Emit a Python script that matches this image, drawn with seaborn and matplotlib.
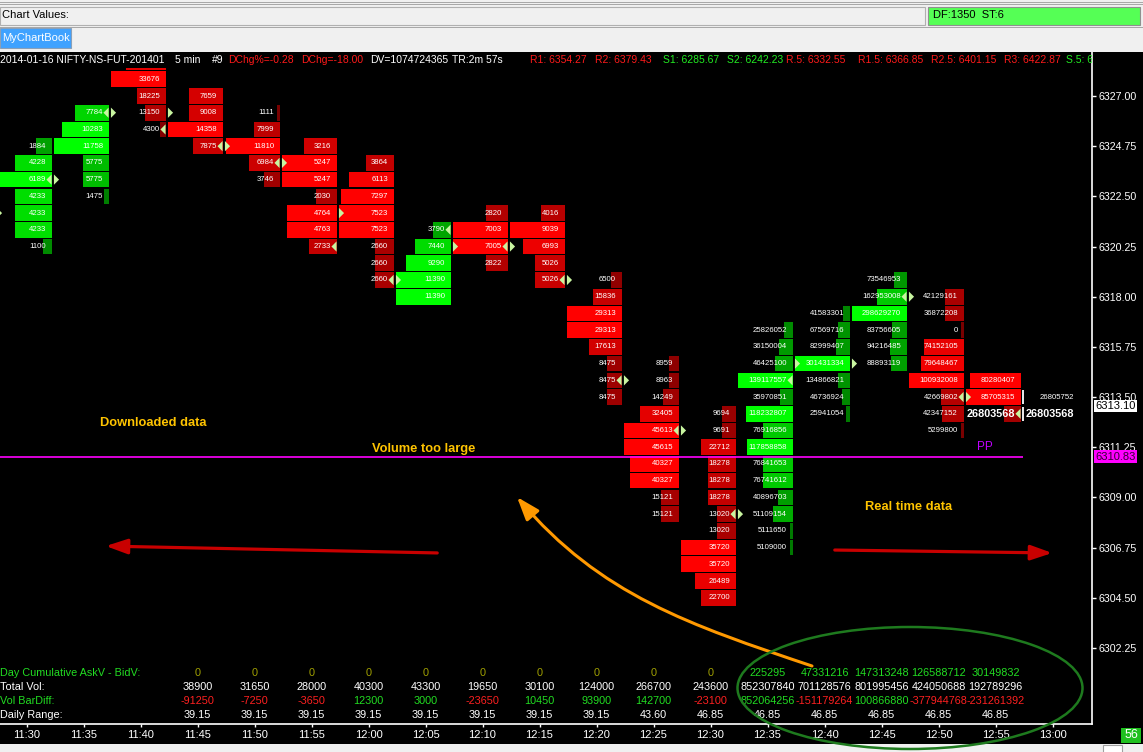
import numpy as np
import pandas as pd
import seaborn as sns
import matplotlib.pyplot as plt
import matplotlib.transforms as mtransforms
from matplotlib.patches import Rectangle, Ellipse, FancyArrowPatch
from matplotlib.path import Path

# ---------------- values ----------------
times = ['11:30', '11:35', '11:40', '11:45', '11:50', '11:55', '12:00', '12:05',
         '12:10', '12:15', '12:20', '12:25', '12:30', '12:35', '12:40', '12:45',
         '12:50', '12:55', '13:00']

# footprint columns: top price level, side, volume per 0.75 level (top -> down)
col_top = [6324.75, 6326.25, 6328.50, 6327.00, 6326.25, 6324.75, 6324.00, 6321.00,
           6321.75, 6321.75, 6318.75, 6315.00, 6312.75, 6316.50, 6317.25, 6318.75,
           6318.00, 6314.25]
col_side = ['buy', 'buy', 'sell', 'sell', 'sell', 'sell', 'sell', 'buy',
            'sell', 'sell', 'sell', 'sell', 'sell', 'buy', 'buy', 'buy',
            'sell', 'sell']
col_vol = [
    [1884, 4228, 6189, 4233, 4233, 4233, 1100],
    [7784, 10283, 11758, 5775, 5775, 1475],
    [None, 33676, 18225, 13150, 4300],
    [7659, 9008, 14358, 7875],
    [1111, 7999, 11810, 6984, 3746],
    [3216, 5247, 5247, 2030, 4764, 4763, 2733],
    [3864, 6113, 7297, 7523, 7523, 2660, 2660, 2660],
    [3790, 7440, 9290, 11390, 11390],
    [2820, 7003, 7005, 2822],
    [4016, 9039, 6993, 5026, 5026],
    [6500, 15836, 29313, 29313, 17613, 8475, 8475, 8475],
    [8959, 8963, 14249, 32405, 45613, 45615, 40327, 40327, 15121, 15121],
    [9694, 9691, 22712, 18278, 18278, 18278, 13020, 13020, 35720, 35720, 26489, 22700],
    [25826052, 36150004, 46425100, 139117557, 35970851, 118232807, 76916856,
     117858858, 76841653, 76741612, 40896703, 51109154, 5111650, 5109000],
    [41583301, 67569716, 82999407, 301431334, 134866821, 46736924, 25941054],
    [73546953, 162953008, 298629270, 83756605, 94216485, 88893119],
    [42129161, 36872208, 0, 74152105, 79648467, 100932008, 42669802, 42347152, 5299800],
    [80280407, 85705315, 26803568],
]
# bar length of each level (0..55 scale of the cell)
col_bar = [
    [16, 37, 55, 37, 37, 37, 9],
    [34, 47, 55, 26, 26, 5],
    [40, 55, 29, 21, 6],
    [34, 34, 55, 30],
    [3, 26, 54, 31, 16],
    [33, 55, 55, 21, 50, 50, 28],
    [28, 45, 53, 55, 55, 19, 19, 19],
    [18, 36, 45, 55, 55],
    [22, 55, 55, 22],
    [24, 55, 42, 30, 30],
    [11, 29, 55, 55, 33, 15, 15, 15],
    [10, 10, 16, 39, 55, 55, 49, 49, 18, 18],
    [14, 14, 35, 28, 28, 28, 19, 19, 55, 55, 41, 35],
    [9, 14, 18, 55, 13, 47, 30, 46, 30, 30, 15, 20, 3, 3],
    [7, 12, 14, 55, 12, 8, 4],
    [13, 30, 55, 15, 17, 16],
    [19, 19, 3, 40, 43, 55, 23, 22, 3],
    [51, 55, 17],
]
col_open = [6321.75, 6323.25, 6326.25, 6326.25, 6324.75, 6324.00, 6321.75, 6318.75,
            6320.25, 6320.25, 6318.75, 6314.25, 6312.00, 6308.25, 6315.00, 6315.00,
            6318.00, 6313.50]
col_close = [6323.25, 6326.25, 6325.50, 6324.75, 6324.00, 6320.25, 6318.75, 6321.00,
             6320.25, 6318.75, 6314.25, 6312.00, 6308.25, 6314.25, None, 6318.00,
             6313.50, 6312.75]

# running 13:00 bar
live_top = 6313.50
live_vol = [26805752, 26803568]

# bottom table, from 11:45 onwards
table_first = 3
day_cum = [0, 0, 0, 0, 0, 0, 0, 0, 0, 0, 225295, 47331216, 147313248, 126588712, 30149832]
total_vol = [38900, 31650, 28000, 40300, 43300, 19650, 30100, 124000, 266700, 243600,
             852307840, 701128576, 801995456, 424050688, 192789296]
bar_diff = [-91250, -7250, -3650, 12300, 3000, -23650, 10450, 93900, 142700, -23100,
            852064256, -151179264, 100866880, -377944768, -231261392]
daily_range = [39.15, 39.15, 39.15, 39.15, 39.15, 39.15, 39.15, 39.15, 43.60,
               46.85, 46.85, 46.85, 46.85, 46.85, 46.85]
table_labels = ['Day Cumulative AskV - BidV:', 'Total Vol:', 'Vol BarDiff:', 'Daily Range:']

pivot = 6310.83
last_price = 6313.10
price_ticks = [6302.25, 6304.50, 6306.75, 6309.00, 6311.25, 6313.50, 6315.75,
               6318.00, 6320.25, 6322.50, 6324.75, 6327.00]

RED, GRN, WHT = '#FF1A1A', '#22EE22', 'white'
header = [('2014-01-16 NIFTY-NS-FUT-201401', WHT), ('5 min', WHT), ('#9', WHT),
          ('DChg%=-0.28', RED), ('DChg=-18.00', RED), ('DV=1074724365', WHT),
          ('TR:2m 57s', WHT), ('R1: 6354.27', RED), ('R2: 6379.43', RED),
          ('S1: 6285.67', GRN), ('S2: 6242.23', GRN), ('R.5: 6332.55', RED),
          ('R1.5: 6366.85', RED), ('R2.5: 6401.15', RED), ('R3: 6422.87', RED),
          ('S.5: 6', GRN)]
header_x = [0, 175, 212, 228, 301, 370, 452, 530, 595, 663, 727, 786, 858, 931, 1004, 1066]

# ---------------- layout ----------------
W, H = 1143, 752
X0, DX = 26.5, 57.0      # pixel of the 11:30 tick, pixels per 5-min column
Y0, PY = 96.0, 22.3      # pixel of 6327.00, pixels per index point
L, R, T, B = 0, 1092, 52, 724
EDGE = 25.5 / DX         # right edge of a cell from its tick

sns.set_theme(style='dark', rc={'axes.facecolor': 'black', 'figure.facecolor': 'black',
                                'axes.grid': False})
plt.rcParams['font.family'] = ['Liberation Sans', 'DejaVu Sans']

fig = plt.figure(figsize=(W / 100, H / 100), dpi=100, facecolor='black')
ax = fig.add_axes([L / W, 1 - B / H, (R - L) / W, (B - T) / H])
ax.set_facecolor('black')
ax.set_xlim((L - X0) / DX, (R - X0) / DX)
ax.set_ylim(6327 - (B - Y0) / PY, 6327 + (Y0 - T) / PY)
pix = mtransforms.Affine2D().scale(1 / W, -1 / H).translate(0, 1) + fig.transFigure
xpix = mtransforms.blended_transform_factory(ax.transData, pix)


def shade(size, side):
    v = (0x70 + (0xFF - 0x70) * min(size / 48.0, 1.0)) / 255
    return (0, v, 0) if side == 'buy' else (v, 0, 0)


rows = []
for i, (top, side, vols, bars) in enumerate(zip(col_top, col_side, col_vol, col_bar)):
    for k, (v, b) in enumerate(zip(vols, bars)):
        rows.append(dict(col=i, price=top - 0.75 * k, vol=v, bar=b, side=side))
cells = pd.DataFrame(rows)

right = cells['col'] + EDGE
ax.barh(cells['price'], cells['bar'] / DX, left=right - cells['bar'] / DX, height=0.7,
        color=[shade(b, s) for b, s in zip(cells['bar'], cells['side'])],
        edgecolor='none', linewidth=0, zorder=2)

last_col = len(col_top) - 1
for _, c in cells.iterrows():
    if c['vol'] is None or pd.isna(c['vol']):
        continue
    bold = c['col'] == last_col and c['price'] == col_close[last_col]
    ax.text(c['col'] + EDGE - 6 / DX, c['price'], f"{int(c['vol'])}", ha='right',
            va='center', color='white', zorder=3,
            fontsize=7.8 if bold else 5.6, fontweight='bold' if bold else 'normal')

# running bar
live_col = len(times) - 1
for k, v in enumerate(live_vol):
    p = live_top - 0.75 * k
    ax.vlines(live_col - 0.52, p - 0.32, p + 0.32, color='white', lw=1.3, zorder=3)
    ax.text(live_col + EDGE - 4 / DX, p, str(v), ha='right', va='center', color='white',
            fontsize=7.8 if k == 1 else 5.6, fontweight='bold' if k == 1 else 'normal')

# open / close markers
opens = pd.DataFrame({'x': np.arange(len(col_open)) - 27 / DX, 'y': col_open})
closes = pd.DataFrame({'x': np.arange(len(col_close)) + 22.5 / DX, 'y': col_close}).dropna()
tri_l = [(0.5, -1), (0.5, 1), (-0.5, 0)]
tri_r = [(-0.5, -1), (-0.5, 1), (0.5, 0)]
sns.scatterplot(data=closes, x='x', y='y', marker=tri_l, s=55, color='#C8F5A0',
                edgecolor='none', linewidth=0, ax=ax, zorder=4, legend=False)
sns.scatterplot(data=opens, x='x', y='y', marker=tri_r, s=55, color='#C8F5A0',
                edgecolor='none', linewidth=0, ax=ax, zorder=4, legend=False)

# pivot line
ax.hlines(pivot, ax.get_xlim()[0], live_col - 0.52, color='#FF00FF', lw=1.2, zorder=3)
ax.text(16.82, pivot + 0.45, 'PP', color='#C000FF', fontsize=8.5, ha='center', va='center')

# bottom table
row_y = [673, 687, 701, 715]
lab_col = ['#22DD22', 'white', '#22DD22', 'white']
for ry, lab, lc in zip(row_y, table_labels, lab_col):
    ax.text(0, ry, lab, transform=pix, color=lc, fontsize=7.8, va='center', clip_on=True)
for j in range(len(total_vol)):
    x = table_first + j
    dc = day_cum[j]
    ax.text(x, row_y[0], str(dc), transform=xpix, ha='center', va='center', fontsize=7.8,
            color='#A0A000' if dc == 0 else '#22DD22')
    ax.text(x, row_y[1], str(total_vol[j]), transform=xpix, ha='center', va='center',
            fontsize=7.8, color='white')
    ax.text(x, row_y[2], str(bar_diff[j]), transform=xpix, ha='center', va='center',
            fontsize=7.8, color='#FF2020' if bar_diff[j] < 0 else '#22DD22')
    ax.text(x, row_y[3], f'{daily_range[j]:.2f}', transform=xpix, ha='center',
            va='center', fontsize=7.8, color='white')

# axes styling
for s in ['top', 'left']:
    ax.spines[s].set_visible(False)
for s in ['right', 'bottom']:
    ax.spines[s].set_color('white')
    ax.spines[s].set_linewidth(1.2)
ax.yaxis.tick_right()
ax.set_yticks(price_ticks)
ax.set_yticklabels([f'{p:.2f}' for p in price_ticks])
ax.set_xticks(range(len(times)))
ax.set_xticklabels(times)
ax.tick_params(axis='y', colors='white', length=3, width=1, pad=1.5, labelsize=7.7,
               direction='out', right=True, left=False)
ax.tick_params(axis='x', colors='white', length=2.5, width=1, pad=1.5, labelsize=8,
               direction='out', bottom=True)
ax.set_xlabel('')
ax.set_ylabel('')

blend = mtransforms.blended_transform_factory(ax.transAxes, ax.transData)
ax.text(1.0028, last_price, f'{last_price:.2f}', transform=blend, ha='left', va='center',
        fontsize=8, color='black', clip_on=False, zorder=6,
        bbox=dict(boxstyle='square,pad=0.12', fc='white', ec='none'))
ax.text(1.0028, pivot, f'{pivot:.2f}', transform=blend, ha='left', va='center',
        fontsize=8, color='#330033', clip_on=False, zorder=6,
        bbox=dict(boxstyle='square,pad=0.12', fc='#FF00FF', ec='none'))

# header strip
ax.add_patch(Rectangle((0, 52), 1091, 15.5, transform=pix, fc='black', ec='none',
                       zorder=8, clip_on=True))
for (txt, c), hx in zip(header, header_x):
    ax.text(hx, 60, txt, transform=pix, color=c, fontsize=7.5, va='center', ha='left',
            zorder=9, clip_on=True)

# annotations
note = '#FFC400'
for txt, nx, ny in [('Downloaded data', 153, 423), ('Volume too large', 424, 449),
                    ('Real time data', 909, 507)]:
    ax.text(nx, ny, txt, transform=pix, color=note, fontsize=9.3, fontweight='bold',
            ha='center', va='center', zorder=5)

for a, b in [((440, 553), (103, 546)), ((832, 550), (1055, 553))]:
    fig.add_artist(FancyArrowPatch(a, b, transform=pix, color='#C80000', lw=2.3,
                                   arrowstyle='-|>,head_length=1.3,head_width=0.45',
                                   mutation_scale=10, zorder=6))
curve = Path([(812, 666), (690, 625), (600, 595), (517, 497)],
             [Path.MOVETO, Path.CURVE4, Path.CURVE4, Path.CURVE4])
fig.add_artist(FancyArrowPatch(path=curve, transform=pix, color='#FF9900', lw=2.2,
                               arrowstyle='-|>,head_length=1.4,head_width=0.5',
                               mutation_scale=10, zorder=6))

# window chrome
fig.add_artist(Rectangle((0, 0), W, 52, transform=pix, fc='#F0F0F0', ec='none', zorder=4))
for yy in [2, 4]:
    fig.add_artist(Rectangle((0, yy), W, 1, transform=pix, fc='#A8A8A8', ec='none', zorder=4))
fig.add_artist(Rectangle((0, 6.5), 925, 18, transform=pix, fc='#F0F0F0', ec='#B0B0B0',
                         lw=0.8, zorder=5))
fig.text(2 / W, 1 - 15.5 / H, 'Chart Values:', color='black', fontsize=8, va='center', zorder=6)
fig.add_artist(Rectangle((928, 6.5), 212, 18, transform=pix, fc='#55FF55', ec='#909090',
                         lw=0.8, zorder=5))
fig.text(933 / W, 1 - 15.5 / H, 'DF:1350  ST:6', color='black', fontsize=8, va='center', zorder=6)
fig.add_artist(Rectangle((0, 26.5), W, 1, transform=pix, fc='#A8A8A8', ec='none', zorder=5))
fig.add_artist(Rectangle((0, 28), 71, 19.5, transform=pix, fc='#3FA2FF', ec='#8AA0B8',
                         lw=0.8, zorder=5))
fig.text(2 / W, 1 - 38 / H, 'MyChartBook', color='white', fontsize=8, va='center', zorder=6)

fig.add_artist(Rectangle((0, 743.5), W, 9, transform=pix, fc='#F0F0F0', ec='none', zorder=4))
fig.add_artist(Rectangle((1103, 745), 19, 8, transform=pix, fc='white', ec='#A0A0A0',
                         lw=0.8, zorder=5))
fig.add_artist(Rectangle((1121, 728), 20, 14.5, transform=pix, fc='#1FC01F', ec='none', zorder=5))
fig.text(1131 / W, 1 - 735.5 / H, '56', color='white', fontsize=9, ha='center',
         va='center', zorder=6)

fig.add_artist(Ellipse((910, 688), 345, 122, transform=pix, fill=False, ec='#1E7A1E',
                       lw=1.8, zorder=7))

fig.savefig('out.png', dpi=100, facecolor='black')
